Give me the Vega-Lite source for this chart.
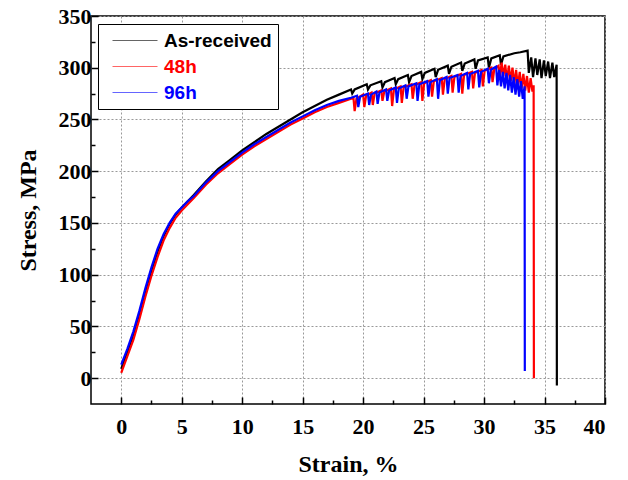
{
  "$schema": "https://vega.github.io/schema/vega-lite/v6.json",
  "width": 514,
  "height": 388,
  "autosize": {"type": "none"},
  "padding": {"left": 91, "top": 16, "right": 23, "bottom": 76},
  "background": "white",
  "config": {
    "view": {"stroke": "black", "strokeWidth": 1.5},
    "font": "Liberation Serif",
    "legend": {"strokeColor": "black", "fillColor": "white", "padding": 6}
  },
  "datasets": {
    "curves": [
      {"s":"As-received","x":0,"y":9},{"s":"As-received","x":0.5,"y":25},{"s":"As-received","x":1,"y":42},{"s":"As-received","x":1.5,"y":62},{"s":"As-received","x":2,"y":84},{"s":"As-received","x":2.5,"y":104},{"s":"As-received","x":3,"y":122},{"s":"As-received","x":3.5,"y":137},{"s":"As-received","x":4,"y":149},{"s":"As-received","x":4.5,"y":158},{"s":"As-received","x":5,"y":165},{"s":"As-received","x":5.5,"y":171},{"s":"As-received","x":6,"y":177},{"s":"As-received","x":7,"y":190},{"s":"As-received","x":8,"y":202},{"s":"As-received","x":9,"y":211},{"s":"As-received","x":10,"y":220},{"s":"As-received","x":11,"y":228},{"s":"As-received","x":12,"y":236},{"s":"As-received","x":13,"y":243},{"s":"As-received","x":14,"y":250},{"s":"As-received","x":15,"y":257},{"s":"As-received","x":16,"y":263},{"s":"As-received","x":17,"y":269},{"s":"As-received","x":18,"y":274},
      {"s":"As-received","x":19.0,"y":279},{"s":"As-received","x":19.1,"y":275},{"s":"As-received","x":19.3,"y":279},{"s":"As-received","x":20.3,"y":284},{"s":"As-received","x":20.4,"y":279},{"s":"As-received","x":20.6,"y":283},{"s":"As-received","x":21.5,"y":287},{"s":"As-received","x":21.6,"y":281},{"s":"As-received","x":21.8,"y":286},{"s":"As-received","x":22.6,"y":290},{"s":"As-received","x":22.7,"y":284},{"s":"As-received","x":22.9,"y":289},{"s":"As-received","x":23.7,"y":293},{"s":"As-received","x":23.8,"y":286},{"s":"As-received","x":24.0,"y":292},{"s":"As-received","x":24.8,"y":296},{"s":"As-received","x":24.9,"y":289},{"s":"As-received","x":25.1,"y":295},{"s":"As-received","x":25.9,"y":299},{"s":"As-received","x":26.0,"y":291},{"s":"As-received","x":26.2,"y":298},{"s":"As-received","x":27.0,"y":302},{"s":"As-received","x":27.1,"y":294},{"s":"As-received","x":27.3,"y":301},{"s":"As-received","x":28.1,"y":305},{"s":"As-received","x":28.2,"y":297},{"s":"As-received","x":28.4,"y":304},{"s":"As-received","x":29.2,"y":308},{"s":"As-received","x":29.3,"y":299},{"s":"As-received","x":29.5,"y":307},{"s":"As-received","x":30.3,"y":310},{"s":"As-received","x":30.4,"y":300},{"s":"As-received","x":30.6,"y":309},{"s":"As-received","x":31.3,"y":312},{"s":"As-received","x":31.4,"y":303},{"s":"As-received","x":31.6,"y":311},{"s":"As-received","x":32.5,"y":314},{"s":"As-received","x":33.0,"y":315},{"s":"As-received","x":33.6,"y":316.5},
      {"s":"As-received","x":33.7,"y":295},{"s":"As-received","x":33.9,"y":310},{"s":"As-received","x":34.05,"y":291},{"s":"As-received","x":34.25,"y":309},{"s":"As-received","x":34.4,"y":293},{"s":"As-received","x":34.6,"y":308},{"s":"As-received","x":34.75,"y":290},{"s":"As-received","x":34.95,"y":307},{"s":"As-received","x":35.1,"y":292},{"s":"As-received","x":35.3,"y":306},{"s":"As-received","x":35.45,"y":290},{"s":"As-received","x":35.65,"y":305},{"s":"As-received","x":35.8,"y":291},{"s":"As-received","x":36.0,"y":303},{"s":"As-received","x":36.02,"y":-7},
      {"s":"48h","x":0,"y":5},{"s":"48h","x":0.5,"y":21},{"s":"48h","x":1,"y":37},{"s":"48h","x":1.5,"y":57},{"s":"48h","x":2,"y":79},{"s":"48h","x":2.5,"y":99},{"s":"48h","x":3,"y":117},{"s":"48h","x":3.5,"y":133},{"s":"48h","x":4,"y":145},{"s":"48h","x":4.5,"y":155},{"s":"48h","x":5,"y":162},{"s":"48h","x":5.5,"y":168},{"s":"48h","x":6,"y":174},{"s":"48h","x":7,"y":187},{"s":"48h","x":8,"y":198},{"s":"48h","x":9,"y":207},{"s":"48h","x":10,"y":216},{"s":"48h","x":11,"y":224},{"s":"48h","x":12,"y":231},{"s":"48h","x":13,"y":238},{"s":"48h","x":14,"y":245},{"s":"48h","x":15,"y":251},{"s":"48h","x":16,"y":257},{"s":"48h","x":17,"y":262},{"s":"48h","x":18,"y":266},{"s":"48h","x":19,"y":270},
      {"s":"48h","x":19.2,"y":271},{"s":"48h","x":19.3,"y":258},{"s":"48h","x":19.45,"y":270},{"s":"48h","x":20.0,"y":274},{"s":"48h","x":20.1,"y":262},{"s":"48h","x":20.25,"y":273},{"s":"48h","x":20.7,"y":276},{"s":"48h","x":20.8,"y":264},{"s":"48h","x":20.95,"y":275},{"s":"48h","x":21.5,"y":278},{"s":"48h","x":21.6,"y":268},{"s":"48h","x":21.75,"y":277},{"s":"48h","x":22.3,"y":280},{"s":"48h","x":22.4,"y":263},{"s":"48h","x":22.55,"y":279},{"s":"48h","x":23.1,"y":282},{"s":"48h","x":23.2,"y":266},{"s":"48h","x":23.35,"y":281},{"s":"48h","x":24.0,"y":284},{"s":"48h","x":24.1,"y":270},{"s":"48h","x":24.25,"y":283},{"s":"48h","x":24.8,"y":286},{"s":"48h","x":24.9,"y":268},{"s":"48h","x":25.05,"y":285},{"s":"48h","x":25.6,"y":288},{"s":"48h","x":25.7,"y":272},{"s":"48h","x":25.85,"y":287},{"s":"48h","x":26.5,"y":290},{"s":"48h","x":26.6,"y":274},{"s":"48h","x":26.75,"y":289},{"s":"48h","x":27.3,"y":292},{"s":"48h","x":27.4,"y":276},{"s":"48h","x":27.55,"y":291},{"s":"48h","x":28.1,"y":294},{"s":"48h","x":28.2,"y":275},{"s":"48h","x":28.35,"y":293},{"s":"48h","x":29.0,"y":296},{"s":"48h","x":29.1,"y":280},{"s":"48h","x":29.25,"y":295},{"s":"48h","x":29.8,"y":298},{"s":"48h","x":29.9,"y":282},{"s":"48h","x":30.05,"y":297},{"s":"48h","x":30.6,"y":300},{"s":"48h","x":30.7,"y":286},{"s":"48h","x":30.85,"y":299},{"s":"48h","x":31.2,"y":302},{"s":"48h","x":31.3,"y":290},{"s":"48h","x":31.45,"y":305},
      {"s":"48h","x":31.6,"y":292},{"s":"48h","x":31.75,"y":303},{"s":"48h","x":31.9,"y":288},{"s":"48h","x":32.05,"y":302},{"s":"48h","x":32.2,"y":287},{"s":"48h","x":32.35,"y":300},{"s":"48h","x":32.5,"y":284},{"s":"48h","x":32.65,"y":298},{"s":"48h","x":32.8,"y":282},{"s":"48h","x":32.95,"y":296},{"s":"48h","x":33.1,"y":280},{"s":"48h","x":33.25,"y":294},{"s":"48h","x":33.4,"y":278},{"s":"48h","x":33.55,"y":292},{"s":"48h","x":33.7,"y":276},{"s":"48h","x":33.85,"y":290},{"s":"48h","x":34.0,"y":277},{"s":"48h","x":34.1,"y":283},{"s":"48h","x":34.12,"y":0},
      {"s":"96h","x":0,"y":13},{"s":"96h","x":0.5,"y":28},{"s":"96h","x":1,"y":45},{"s":"96h","x":1.5,"y":65},{"s":"96h","x":2,"y":87},{"s":"96h","x":2.5,"y":107},{"s":"96h","x":3,"y":125},{"s":"96h","x":3.5,"y":139},{"s":"96h","x":4,"y":150},{"s":"96h","x":4.5,"y":159},{"s":"96h","x":5,"y":165},{"s":"96h","x":5.5,"y":171},{"s":"96h","x":6,"y":176},{"s":"96h","x":7,"y":189},{"s":"96h","x":8,"y":200},{"s":"96h","x":9,"y":209},{"s":"96h","x":10,"y":218},{"s":"96h","x":11,"y":226},{"s":"96h","x":12,"y":233},{"s":"96h","x":13,"y":240},{"s":"96h","x":14,"y":247},{"s":"96h","x":15,"y":253},{"s":"96h","x":16,"y":259},{"s":"96h","x":17,"y":264},{"s":"96h","x":18,"y":268},{"s":"96h","x":19,"y":271},
      {"s":"96h","x":19.5,"y":273},{"s":"96h","x":19.6,"y":262},{"s":"96h","x":19.75,"y":272},{"s":"96h","x":20.4,"y":275},{"s":"96h","x":20.5,"y":264},{"s":"96h","x":20.65,"y":274},{"s":"96h","x":21.1,"y":277},{"s":"96h","x":21.2,"y":265},{"s":"96h","x":21.35,"y":276},{"s":"96h","x":21.9,"y":279},{"s":"96h","x":22.0,"y":268},{"s":"96h","x":22.15,"y":278},{"s":"96h","x":22.7,"y":281},{"s":"96h","x":22.8,"y":266},{"s":"96h","x":22.95,"y":280},{"s":"96h","x":23.5,"y":283},{"s":"96h","x":23.6,"y":270},{"s":"96h","x":23.75,"y":282},{"s":"96h","x":24.4,"y":285},{"s":"96h","x":24.5,"y":268},{"s":"96h","x":24.65,"y":284},{"s":"96h","x":25.3,"y":287},{"s":"96h","x":25.4,"y":272},{"s":"96h","x":25.55,"y":286},{"s":"96h","x":26.1,"y":289},{"s":"96h","x":26.2,"y":270},{"s":"96h","x":26.35,"y":288},{"s":"96h","x":26.9,"y":291},{"s":"96h","x":27.0,"y":275},{"s":"96h","x":27.15,"y":290},{"s":"96h","x":27.8,"y":293},{"s":"96h","x":27.9,"y":276},{"s":"96h","x":28.05,"y":292},{"s":"96h","x":28.6,"y":295},{"s":"96h","x":28.7,"y":279},{"s":"96h","x":28.85,"y":294},{"s":"96h","x":29.5,"y":297},{"s":"96h","x":29.6,"y":281},{"s":"96h","x":29.75,"y":296},{"s":"96h","x":30.3,"y":299},{"s":"96h","x":30.4,"y":285},{"s":"96h","x":30.55,"y":298},{"s":"96h","x":31.0,"y":301},{"s":"96h","x":31.1,"y":283},
      {"s":"96h","x":31.25,"y":298},{"s":"96h","x":31.4,"y":282},{"s":"96h","x":31.55,"y":296},{"s":"96h","x":31.7,"y":280},{"s":"96h","x":31.85,"y":295},{"s":"96h","x":32.0,"y":278},{"s":"96h","x":32.15,"y":293},{"s":"96h","x":32.3,"y":276},{"s":"96h","x":32.45,"y":291},{"s":"96h","x":32.6,"y":274},{"s":"96h","x":32.75,"y":289},{"s":"96h","x":32.9,"y":272},{"s":"96h","x":33.05,"y":287},{"s":"96h","x":33.2,"y":270},{"s":"96h","x":33.35,"y":282},{"s":"96h","x":33.37,"y":7}
    ]
  },
  "data": {"name": "curves"},
  "mark": {"type": "line", "strokeWidth": 2.2, "clip": true},
  "encoding": {
    "x": {
      "field": "x", "type": "quantitative",
      "scale": {"domain": [-2.5, 40], "nice": false, "zero": false},
      "axis": {
        "title": "Strain, %",
        "titleFont": "Liberation Serif", "titleFontSize": 24, "titleFontWeight": "bold", "titleColor": "black", "titlePadding": 15,
        "values": [0,2.5,5,7.5,10,12.5,15,17.5,20,22.5,25,27.5,30,32.5,35,37.5,40],
        "labelExpr": "datum.value % 5 === 0 ? datum.label : ''",
        "labelFont": "Liberation Serif", "labelFontSize": 22, "labelFontWeight": "bold", "labelColor": "black", "labelPadding": 19,
        "domain": false,
        "tickColor": "black", "tickWidth": 1.5,
        "tickSize": {"condition": {"test": "datum.value % 5 !== 0", "value": -4}, "value": -7},
        "grid": true, "gridColor": "#999999", "gridDash": [2, 2], "gridWidth": 1,
        "gridOpacity": {"condition": {"test": "datum.value % 5 !== 0", "value": 0}, "value": 1}
      }
    },
    "y": {
      "field": "y", "type": "quantitative",
      "scale": {"domain": [-25, 350], "nice": false, "zero": false},
      "axis": {
        "title": "Stress, MPa",
        "titleFont": "Liberation Serif", "titleFontSize": 24, "titleFontWeight": "bold", "titleColor": "black", "titlePadding": 18,
        "values": [0,25,50,75,100,125,150,175,200,225,250,275,300,325,350],
        "labelExpr": "datum.value % 50 === 0 ? datum.label : ''",
        "labelFont": "Liberation Serif", "labelFontSize": 22, "labelFontWeight": "bold", "labelColor": "black", "labelPadding": 7,
        "domain": false,
        "tickColor": "black", "tickWidth": 1.5,
        "tickSize": {"condition": {"test": "datum.value % 50 !== 0", "value": -4}, "value": -7},
        "grid": true, "gridColor": "#999999", "gridDash": [2, 2], "gridWidth": 1,
        "gridOpacity": {"condition": {"test": "datum.value % 50 !== 0", "value": 0}, "value": 1}
      }
    },
    "color": {
      "field": "s", "type": "nominal",
      "scale": {"domain": ["As-received", "48h", "96h"], "range": ["#000000", "#ff0000", "#0000ff"]},
      "legend": {
        "title": null,
        "orient": "none", "legendX": 7, "legendY": 8,
        "symbolType": "stroke", "symbolSize": 2025, "symbolStrokeWidth": 1, "symbolOffset": 8, "symbolOpacity": 0.6,
        "clipHeight": 21, "rowPadding": 5,
        "labelFont": "Liberation Sans", "labelFontSize": 19, "labelFontWeight": "bold", "labelOffset": 6,
        "labelColor": {"expr": "datum.label === '48h' ? '#ff0000' : datum.label === '96h' ? '#0000ff' : '#000000'"}
      }
    }
  }
}
